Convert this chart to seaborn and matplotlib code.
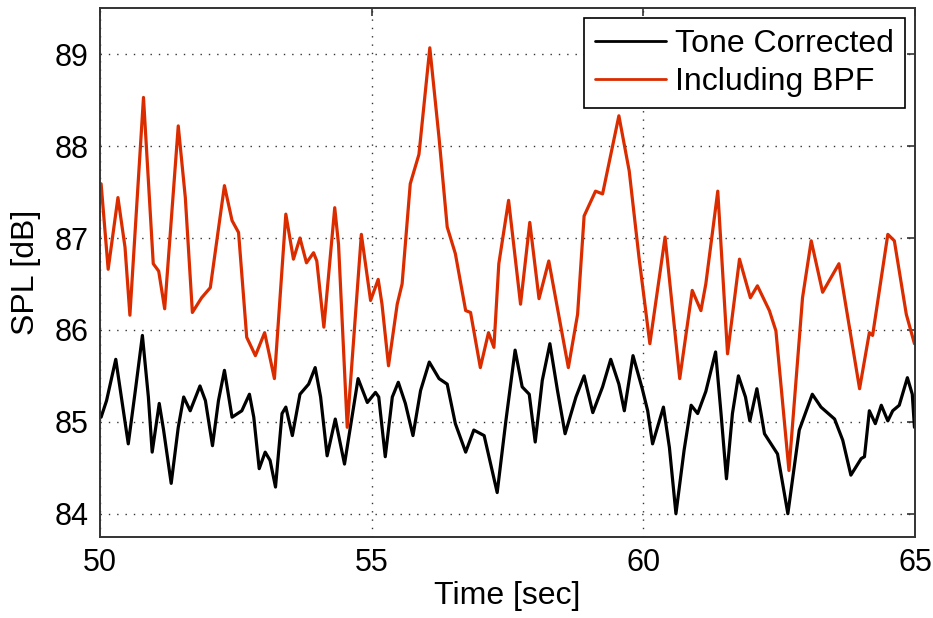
import matplotlib
matplotlib.use("Agg")
import matplotlib.pyplot as plt
import seaborn as sns
import pandas as pd

# ---- data ----
red_t = [50.02, 50.15, 50.33, 50.46, 50.55, 50.80, 50.98, 51.08, 51.19, 51.44,
         51.57, 51.70, 51.87, 52.03, 52.29, 52.43, 52.55, 52.70, 52.86, 53.03,
         53.21, 53.42, 53.56, 53.68, 53.80, 53.93, 53.99, 54.12, 54.32, 54.39,
         54.55, 54.81, 54.98, 55.12, 55.19, 55.31, 55.47, 55.56, 55.71, 55.87,
         56.07, 56.24, 56.39, 56.54, 56.73, 56.82, 57.00, 57.15, 57.25, 57.34,
         57.52, 57.74, 57.91, 58.08, 58.26, 58.62, 58.79, 58.91, 59.12, 59.25,
         59.55, 59.74, 59.92, 60.12, 60.40, 60.67, 60.90, 61.06, 61.15, 61.37,
         61.55, 61.77, 61.97, 62.10, 62.32, 62.44, 62.68, 62.93, 63.09, 63.30,
         63.60, 63.98, 64.16, 64.22, 64.50, 64.62, 64.84, 64.99]
red_v = [87.59, 86.66, 87.44, 86.90, 86.16, 88.53, 86.72, 86.64, 86.23, 88.22,
         87.44, 86.19, 86.35, 86.46, 87.57, 87.19, 87.06, 85.92, 85.72, 85.97,
         85.47, 87.26, 86.77, 87.00, 86.73, 86.84, 86.75, 86.03, 87.33, 86.93,
         84.94, 87.04, 86.32, 86.55, 86.28, 85.61, 86.28, 86.50, 87.59, 87.91,
         89.07, 88.09, 87.12, 86.83, 86.21, 86.19, 85.59, 85.97, 85.81, 86.72,
         87.41, 86.28, 87.17, 86.34, 86.75, 85.59, 86.17, 87.24, 87.51, 87.48,
         88.33, 87.73, 86.79, 85.85, 87.01, 85.47, 86.43, 86.21, 86.50, 87.51,
         85.74, 86.77, 86.35, 86.48, 86.21, 85.99, 84.47, 86.35, 86.97, 86.41,
         86.72, 85.36, 85.97, 85.94, 87.04, 86.97, 86.17, 85.85]

black_t = [50.02, 50.12, 50.29, 50.52, 50.65, 50.78, 50.89, 50.96, 51.09, 51.17,
           51.31, 51.44, 51.54, 51.66, 51.84, 51.94, 52.07, 52.18, 52.29, 52.43,
           52.61, 52.75, 52.83, 52.93, 53.04, 53.13, 53.23, 53.35, 53.42, 53.54,
           53.68, 53.84, 53.96, 54.06, 54.18, 54.33, 54.50, 54.75, 54.92, 55.07,
           55.13, 55.25, 55.38, 55.49, 55.62, 55.76, 55.90, 56.06, 56.24, 56.39,
           56.54, 56.73, 56.88, 57.07, 57.31, 57.47, 57.64, 57.77, 57.90, 58.01,
           58.14, 58.28, 58.42, 58.56, 58.76, 58.91, 59.07, 59.25, 59.40, 59.55,
           59.65, 59.81, 59.98, 60.08, 60.17, 60.37, 60.48, 60.60, 60.75, 60.88,
           61.00, 61.15, 61.33, 61.43, 61.53, 61.64, 61.75, 61.88, 61.96, 62.09,
           62.23, 62.35, 62.47, 62.66, 62.87, 63.11, 63.27, 63.52, 63.67, 63.82,
           64.01, 64.07, 64.16, 64.27, 64.38, 64.50, 64.59, 64.71, 64.86, 64.95,
           64.99]
black_v = [85.05, 85.23, 85.68, 84.76, 85.34, 85.94, 85.27, 84.67, 85.20, 84.91,
           84.33, 84.94, 85.27, 85.12, 85.39, 85.23, 84.74, 85.23, 85.56, 85.05,
           85.12, 85.30, 85.05, 84.49, 84.67, 84.58, 84.29, 85.09, 85.16, 84.85,
           85.30, 85.41, 85.59, 85.27, 84.63, 85.03, 84.54, 85.47, 85.21, 85.32,
           85.27, 84.62, 85.27, 85.43, 85.20, 84.85, 85.34, 85.65, 85.47, 85.41,
           84.98, 84.67, 84.91, 84.85, 84.23, 85.01, 85.78, 85.38, 85.30, 84.78,
           85.45, 85.85, 85.34, 84.87, 85.27, 85.50, 85.10, 85.38, 85.68, 85.41,
           85.12, 85.72, 85.36, 85.12, 84.76, 85.16, 84.72, 84.00, 84.69, 85.18,
           85.09, 85.33, 85.76, 85.09, 84.38, 85.09, 85.50, 85.27, 85.01, 85.36,
           84.87, 84.76, 84.65, 84.00, 84.91, 85.30, 85.16, 85.03, 84.80, 84.42,
           84.60, 84.62, 85.12, 84.98, 85.18, 85.01, 85.12, 85.18, 85.48, 85.30,
           84.94]

series_names = ["Tone Corrected", "Including BPF"]
x_ticks = [50, 55, 60, 65]
y_ticks = [84, 85, 86, 87, 88, 89]

# ---- style ----
sns.set_style("white")
plt.rcParams["font.family"] = ["Liberation Sans", "DejaVu Sans"]
plt.rcParams["text.color"] = "black"
plt.rcParams["axes.labelcolor"] = "black"
plt.rcParams["xtick.color"] = "black"
plt.rcParams["ytick.color"] = "black"

df = pd.concat([
    pd.DataFrame({"Time": black_t, "SPL": black_v, "series": series_names[0]}),
    pd.DataFrame({"Time": red_t, "SPL": red_v, "series": series_names[1]}),
], ignore_index=True)

fig = plt.figure(figsize=(9.33, 6.18), dpi=100)
ax = fig.add_axes([0.1072, 0.1316, 0.8735, 0.855])

sns.lineplot(data=df, x="Time", y="SPL", hue="series", hue_order=series_names,
             palette={series_names[0]: "#000000", series_names[1]: "#DB2C00"},
             estimator=None, sort=False, linewidth=2.3, ax=ax)

ax.set_xlim(50, 65)
ax.set_ylim(83.75, 89.5)
ax.set_xticks(x_ticks)
ax.set_yticks(y_ticks)
ax.grid(True, color="black", linestyle=(0, (1, 5)), linewidth=1.0, alpha=0.8)
for s in ax.spines.values():
    s.set_visible(True)
    s.set_color("#333333")
    s.set_linewidth(1.4)
ax.tick_params(direction="in", length=6, width=1.2, color="#333333",
               labelcolor="black", top=True, right=True, labelsize=22, pad=8)
ax.set_xlabel("Time [sec]", fontsize=23, labelpad=2)
ax.set_ylabel("SPL [dB]", fontsize=23, labelpad=10)

leg = ax.legend(loc="upper right", fontsize=23, frameon=True, fancybox=False,
                shadow=False, handlelength=2.2, handletextpad=0.3,
                borderaxespad=0.3, borderpad=0.35, labelspacing=0.25, framealpha=1)
leg.get_frame().set_edgecolor("black")
leg.get_frame().set_linewidth(1.2)
for line in leg.get_lines():
    line.set_linewidth(2.0)
for txt in leg.get_texts():
    txt.set_color("black")

fig.savefig("out.png", dpi=100)
